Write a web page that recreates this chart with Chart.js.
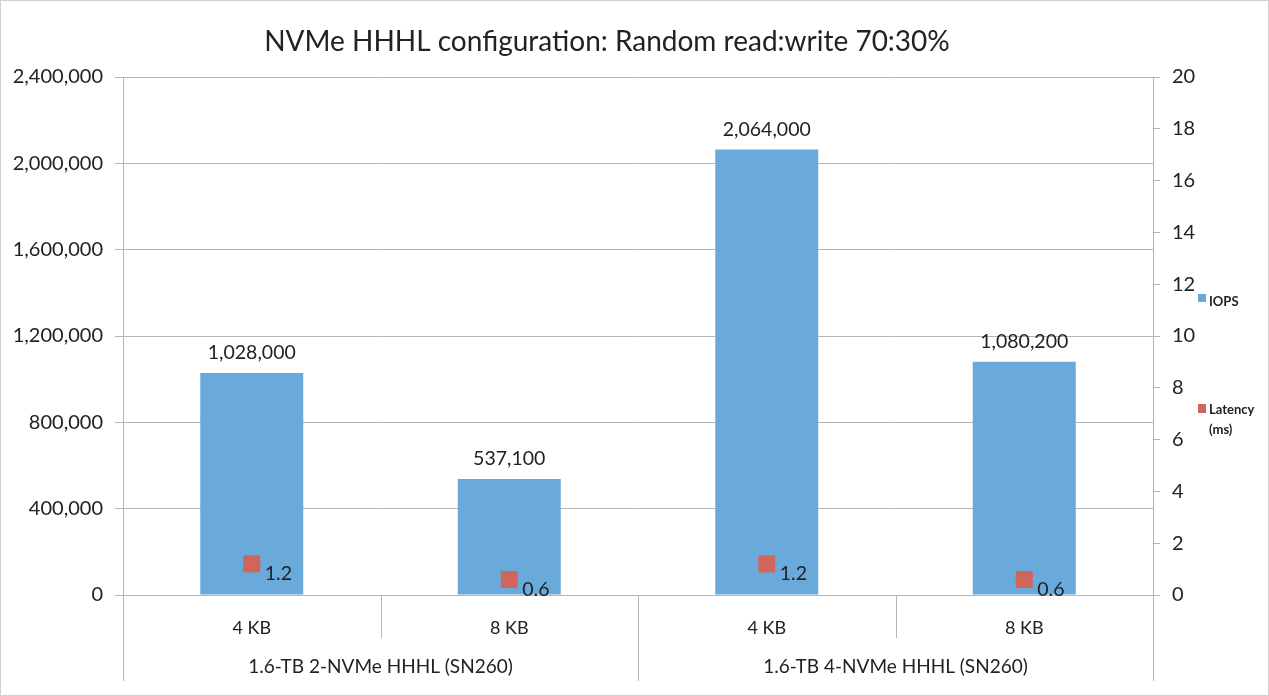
<!DOCTYPE html>
<html>
<head>
<meta charset="utf-8">
<script src="https://cdn.jsdelivr.net/npm/chart.js@4/dist/chart.umd.min.js"></script>
<style>
  body { margin: 0; background: #fff; }
  #wrap { width: 1269px; height: 696px; }
</style>
</head>
<body>
<div id="wrap"><canvas id="nvmeChart" width="1269" height="696"></canvas></div>
<script>
// chart data
const sizes = ['4 KB', '8 KB', '4 KB', '8 KB'];
const groups = ['1.6-TB 2-NVMe HHHL (SN260)', '1.6-TB 4-NVMe HHHL (SN260)'];
const iops = [1028000, 537100, 2064000, 1080200];
const latency = [1.2, 0.6, 1.2, 0.6];
const iopsAxis = { min: 0, max: 2400000, step: 400000 };
const latencyAxis = { min: 0, max: 20, step: 2 };

const FONT = 'Lato, "Open Sans", sans-serif';
const BLUE = '#6aaadb';
const RED = '#d0655b';
const GRID = '#b5b5b5';

// labels, group row, legend, title, outer frame
const extras = {
  id: 'extras',
  afterDatasetsDraw(chart) {
    const ctx = chart.ctx;
    const x = chart.scales.x;
    const area = chart.chartArea;
    ctx.save();

    // bar values
    ctx.fillStyle = '#222';
    ctx.font = '19.5px ' + FONT;
    ctx.textAlign = 'center';
    ctx.textBaseline = 'middle';
    chart.getDatasetMeta(0).data.forEach((bar, i) => {
      ctx.fillText(iops[i].toLocaleString('en-US'), bar.x, bar.y - 20);
    });

    // latency values
    ctx.textAlign = 'left';
    chart.getDatasetMeta(1).data.forEach((pt, i) => {
      ctx.fillText(String(latency[i]), pt.x + 13, pt.y + 10);
    });

    // category separators below the axis
    const half = (x.getPixelForValue(1) - x.getPixelForValue(0)) / 2;
    ctx.strokeStyle = GRID;
    ctx.lineWidth = 1;
    for (let i = 0; i <= sizes.length; i++) {
      const px = Math.round(x.getPixelForValue(i) - half) + 0.5;
      const long = i % 2 === 0;
      ctx.beginPath();
      ctx.moveTo(px, area.bottom);
      ctx.lineTo(px, long ? area.bottom + 86 : area.bottom + 43);
      ctx.stroke();
    }

    // group labels
    ctx.font = '19px ' + FONT;
    ctx.textAlign = 'center';
    groups.forEach((g, gi) => {
      const cx = (x.getPixelForValue(gi * 2) + x.getPixelForValue(gi * 2 + 1)) / 2;
      ctx.fillText(g, cx, area.bottom + 72);
    });

    // legend
    ctx.font = 'bold 13px ' + FONT;
    ctx.textAlign = 'left';
    ctx.fillStyle = BLUE;
    ctx.fillRect(1198, 294, 8, 8);
    ctx.fillStyle = '#222';
    ctx.fillText('IOPS', 1209, 302);
    ctx.fillStyle = RED;
    ctx.fillRect(1198, 404, 8, 9);
    ctx.fillStyle = '#222';
    ctx.fillText('Latency', 1209, 410);
    ctx.fillText('(ms)', 1209, 430);

    // title
    ctx.font = '28px ' + FONT;
    ctx.textAlign = 'center';
    ctx.fillText('NVMe HHHL configuration: Random read:write 70:30%', 607, 42);

    // outer frame
    ctx.strokeStyle = '#d0d0d0';
    ctx.strokeRect(0.5, 0.5, chart.width - 1, chart.height - 1);
    ctx.restore();
  }
};

const nvmeCtx = document.getElementById('nvmeChart').getContext('2d');
const nvmeChart = new Chart(nvmeCtx, {
  type: 'bar',
  data: {
    labels: sizes,
    datasets: [{
      label: 'IOPS',
      data: iops,
      backgroundColor: BLUE,
      yAxisID: 'y',
      categoryPercentage: 1,
      barPercentage: 0.4,
      order: 2
    }, {
      type: 'line',
      label: 'Latency (ms)',
      data: latency,
      yAxisID: 'y1',
      showLine: false,
      pointStyle: 'rect',
      pointRadius: 12,
      pointBackgroundColor: RED,
      pointBorderColor: RED,
      pointBorderWidth: 0,
      order: 1
    }]
  },
  options: {
    responsive: false,
    animation: false,
    layout: { padding: { top: 77, left: 0, right: 0, bottom: 0 } },
    plugins: {
      legend: { display: false },
      tooltip: { enabled: false }
    },
    scales: {
      x: {
        grid: { display: false },
        border: { display: true, color: GRID },
        ticks: { color: '#222', font: { family: FONT, size: 18 }, padding: 14 },
        afterFit: s => { s.height = 101; }
      },
      y: {
        position: 'left',
        min: iopsAxis.min,
        max: iopsAxis.max,
        grid: { color: GRID, tickLength: 8 },
        border: { display: true, color: GRID },
        ticks: {
          stepSize: iopsAxis.step,
          color: '#222',
          font: { family: FONT, size: 20 },
          padding: 12,
          callback: v => v.toLocaleString('en-US')
        },
        afterFit: s => { s.width = 123; }
      },
      y1: {
        position: 'right',
        min: latencyAxis.min,
        max: latencyAxis.max,
        grid: { drawOnChartArea: false, color: GRID, tickLength: 7 },
        border: { display: true, color: GRID },
        ticks: {
          stepSize: latencyAxis.step,
          color: '#222',
          font: { family: FONT, size: 20 },
          padding: 12
        },
        afterFit: s => { s.width = 116; }
      }
    }
  },
  plugins: [extras]
});
</script>
</body>
</html>
